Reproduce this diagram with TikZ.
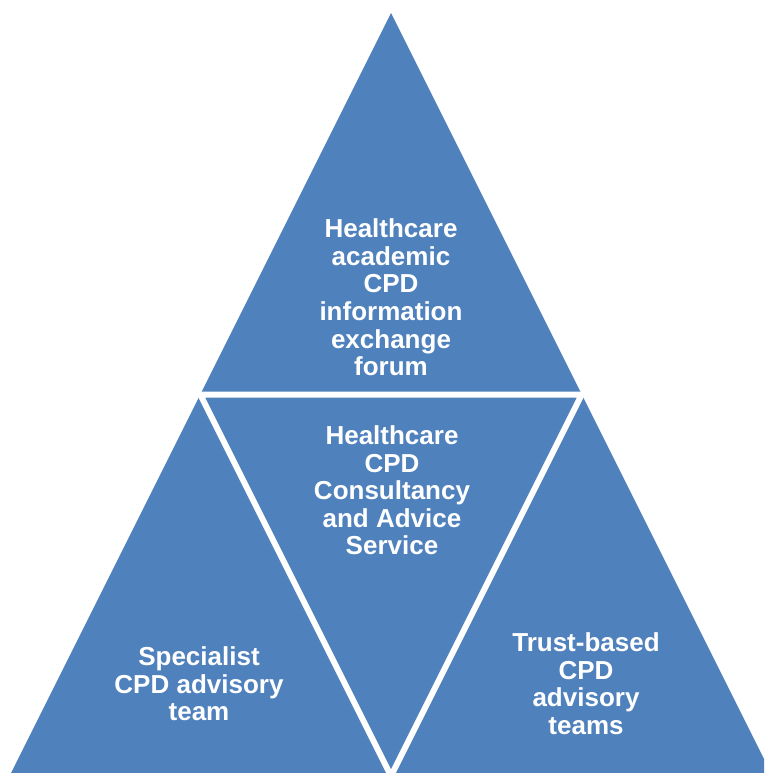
\documentclass[tikz,border=0pt]{standalone}
\usepackage{fontspec}
\setmainfont{Liberation Sans}
\definecolor{pyramidblue}{RGB}{79,129,189}

\begin{document}
\begin{tikzpicture}[x=1pt,y=-1pt]
		\tikzstyle {label text} = [align=center, text=white, inner sep=0pt, font=\bfseries\fontsize{26}{27.6}\selectfont]
		\tikzstyle {gap line} = [white, line width=6pt, line join=miter]

		\useasboundingbox (0,0) rectangle (764,773);
		\clip (0,0) rectangle (764,773);

		% outer triangle
		\coordinate (apex) at (391,13);
		\coordinate (left) at (9.5,776);
		\coordinate (right) at (772.5,776);
		\fill[pyramidblue] (apex) -- (left) -- (right) -- cycle;

		% inner (upside down) triangle
		\coordinate (midleft) at (200.25,394.5);
		\coordinate (midright) at (581.75,394.5);
		\coordinate (midbottom) at (391,776);
		\draw[gap line] (midleft) -- (midright) -- (midbottom) -- cycle;

		\node[label text] (forum) at (391,297.5) {Healthcare\\academic\\CPD\\information\\exchange\\forum};
		\node[label text] (service) at (392,490.5) {Healthcare\\CPD\\Consultancy\\and Advice\\Service};
		\node[label text] (specialist) at (199,684) {Specialist\\CPD advisory\\team};
		\node[label text] (trust) at (586,683.5) {Trust-based\\CPD\\advisory\\teams};
	\end{tikzpicture}
\end{document}
